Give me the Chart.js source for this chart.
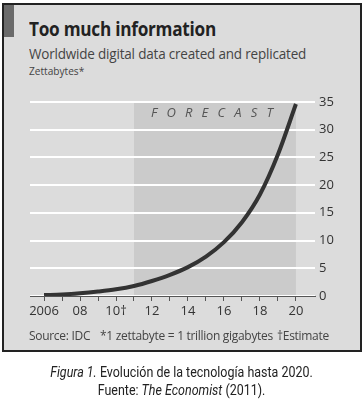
<!DOCTYPE html>
<html lang="en">
<head>
  <meta charset="UTF-8">
  <title>Too much information</title>
  <script src="https://cdn.jsdelivr.net/npm/chart.js"></script>
  <style>
    body { margin: 0; background: #fff; width: 363px; height: 410px; position: relative; overflow: hidden; font-family: "Open Sans", sans-serif; color: #333; }
    .box { position: absolute; left: 2px; top: 3px; width: 356px; height: 345px; border: 2px solid #222; background: #dcdcdc; }
    .tab { position: absolute; left: 4px; top: 5px; width: 10px; height: 32px; background: #6a6a6a; }
    .t { position: absolute; white-space: nowrap; transform-origin: left top; }
    #title { left: 29px; top: 15px; font-size: 20px; font-weight: bold; color: #222; letter-spacing: -0.3px; transform: scaleX(0.86); }
    #sub { left: 29px; top: 44px; font-size: 14.5px; color: #444; letter-spacing: -0.2px; transform: scaleX(0.93); }
    #unit { left: 29px; top: 63px; font-size: 11px; color: #444; transform: scaleX(0.92); }
    #forecast { left: 151px; top: 103px; font-size: 13px; font-style: italic; letter-spacing: 9.2px; color: #555; }
    .src { top: 327px; font-size: 12px; color: #444; letter-spacing: -0.3px; }
    #cap { left: 0; width: 363px; text-align: center; top: 364px; font-family: "Roboto", sans-serif; font-size: 14.5px; color: #222; line-height: 18px; transform-origin: center top; transform: scaleX(0.86); }
    #chartWrap { position: absolute; left: 0; top: 90px; width: 363px; height: 240px; }
  </style>
</head>
<body>
  <div class="box"></div>
  <div class="tab"></div>
  <div class="t" id="title">Too much information</div>
  <div class="t" id="sub">Worldwide digital data created and replicated</div>
  <div class="t" id="unit">Zettabytes*</div>

  <div id="chartWrap"><canvas id="chart" width="363" height="240"></canvas></div>

  <div class="t" id="forecast">FORECAST</div>
  <div class="t src" style="left:29px">Source: IDC</div>
  <div class="t src" style="left:100px">*1 zettabyte = 1 trillion gigabytes</div>
  <div class="t src" style="left:277px">†Estimate</div>
  <div class="t" id="cap"><i>Figura 1.</i> Evolución de la tecnología hasta 2020.<br>Fuente: <i>The Economist</i> (2011).</div>

  <script>
    // data
    const years = [2006, 2007, 2008, 2009, 2010, 2011, 2012, 2013, 2014, 2015, 2016, 2017, 2018, 2019, 2020];
    const zettabytes = [0.16, 0.28, 0.49, 0.8, 1.2, 1.8, 2.7, 3.8, 5.2, 7.1, 9.7, 13.3, 18.3, 25.5, 34.6];
    const yTicks = [0, 5, 10, 15, 20, 25, 30, 35];
    const xLabels = { 2006: '2006', 2008: '08', 2010: '10†', 2012: '12', 2014: '14', 2016: '16', 2018: '18', 2020: '20' };
    const forecastRange = [2011, 2020];

    // grey forecast band, drawn under the gridlines
    const forecastBand = {
      id: 'forecastBand',
      beforeDraw(chart) {
        const { ctx, scales: { x, y } } = chart;
        const x0 = x.getPixelForValue(forecastRange[0]);
        const x1 = x.getPixelForValue(forecastRange[1]);
        const top = y.getPixelForValue(35);
        const bottom = y.getPixelForValue(0);
        ctx.save();
        ctx.fillStyle = '#cbcbcb';
        ctx.fillRect(x0, top, x1 - x0, bottom - top);
        ctx.restore();
      }
    };

    new Chart(document.getElementById('chart'), {
      type: 'line',
      data: {
        datasets: [{
          data: years.map((yr, i) => ({ x: yr, y: zettabytes[i] })),
          borderColor: '#333',
          borderWidth: 4,
          pointRadius: 0,
          tension: 0.4,
          cubicInterpolationMode: 'monotone'
        }]
      },
      options: {
        responsive: false,
        animation: false,
        layout: { padding: { left: 30, top: 9, right: 0, bottom: 0 } },
        plugins: { legend: { display: false }, tooltip: { enabled: false } },
        scales: {
          x: {
            type: 'linear',
            min: 2005.22,
            max: 2021.06,
            afterBuildTicks(scale) { scale.ticks = years.map(v => ({ value: v })); },
            afterFit(scale) { scale.height = 34; },
            grid: { drawOnChartArea: false, drawTicks: true, tickLength: 5, color: '#555', lineWidth: 1 },
            border: { display: true, color: '#555', width: 1 },
            ticks: {
              autoSkip: false,
              maxRotation: 0,
              padding: 2,
              color: '#333',
              font: { family: 'Open Sans', size: 13 },
              callback: v => xLabels[v] || ''
            }
          },
          y: {
            position: 'right',
            min: 0,
            max: 35,
            afterBuildTicks(scale) { scale.ticks = yTicks.map(v => ({ value: v })); },
            afterFit(scale) { scale.width = 48; },
            grid: { color: '#fff', lineWidth: 2, drawTicks: false },
            border: { display: false },
            ticks: {
              padding: 4,
              color: '#333',
              font: { family: 'Open Sans', size: 13 }
            }
          }
        }
      },
      plugins: [forecastBand]
    });
  </script>
</body>
</html>
